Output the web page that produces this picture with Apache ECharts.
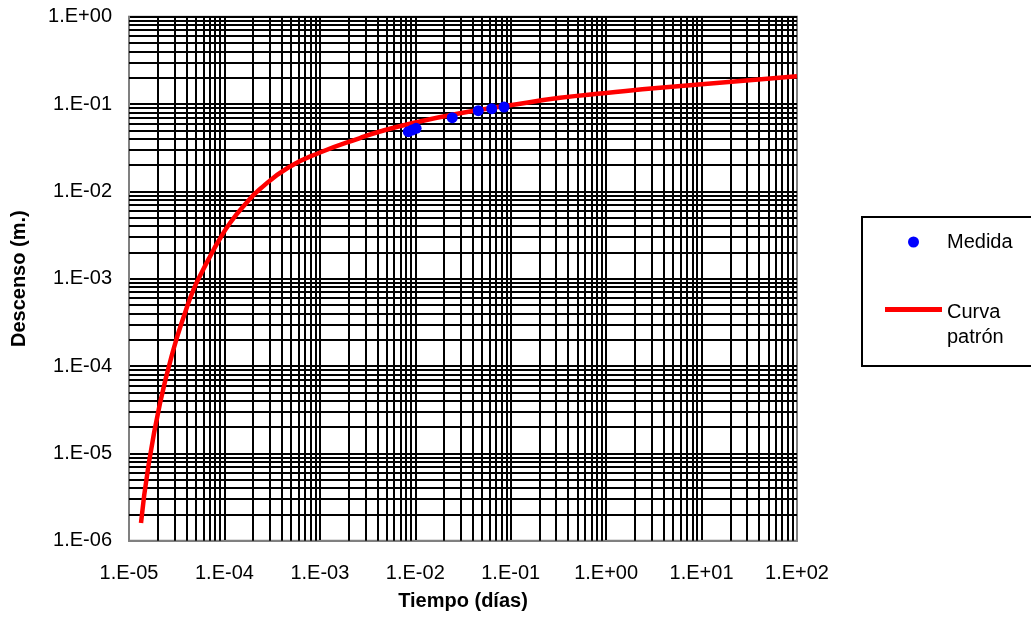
<!DOCTYPE html>
<html>
<head>
<meta charset="utf-8">
<script src="https://cdn.jsdelivr.net/npm/echarts@6/dist/echarts.min.js"></script>
<style>
html,body{margin:0;padding:0;background:#fff;}
#c{width:1031px;height:624px;}
</style>
</head>
<body>
<div id="c"></div>
<script>
// Tick labels
const xTickLabels = ['1.E-05','1.E-04','1.E-03','1.E-02','1.E-01','1.E+00','1.E+01','1.E+02'];
const yTickLabels = ['1.E-06','1.E-05','1.E-04','1.E-03','1.E-02','1.E-01','1.E+00'];

// Curva patrón
const curveTime = [1.336e-5, 1.593e-5, 2.113e-5, 2.912e-5, 3.957e-5, 4.72e-5, 5.78e-5, 7.06e-5, 8.62e-5, 1.144e-4,
  1.642e-4, 2.359e-4, 4.67e-4, 1.003e-3, 2.634e-3, 4.27e-3, 8.80e-3, 2.941e-2, 0.09829, 0.3284, 1.0, 3.667, 100];
const curveDrawdown = [1.594e-6, 7.03e-6, 3.74e-5, 1.526e-4, 4.38e-4, 7.42e-4, 1.177e-3, 1.795e-3, 2.666e-3, 4.342e-3,
  7.07e-3, 0.01064, 0.01876, 0.02786, 0.04083, 0.04847, 0.05953, 0.0783, 0.09671, 0.1178, 0.1337, 0.1538, 0.2077];

// Medida (measured points)
const measTime = [8.45e-3, 9.24e-3, 1.02e-2, 0.0244, 0.0457, 0.0632, 0.0851];
const measDrawdown = [0.0482, 0.0504, 0.0527, 0.0698, 0.0839, 0.0885, 0.0925];

// Minor grid multipliers and decade ranges
const minorMult = [2,3,4,5,6,7,8,9];
const xDecades = [-5,-4,-3,-2,-1,0,1];
const yDecades = [-6,-5,-4,-3,-2,-1];
const xRange = [1e-5, 100];
const yRange = [1e-6, 1];

const FONT = "'Liberation Sans', Arial, sans-serif";

const gridLines = [];
xDecades.forEach(d => minorMult.forEach(m => {
  const v = m * Math.pow(10, d);
  gridLines.push({coords: [[v, yRange[0]], [v, yRange[1]]]});
}));
yDecades.forEach(d => minorMult.forEach(m => {
  const v = m * Math.pow(10, d);
  gridLines.push({coords: [[xRange[0], v], [xRange[1], v]]});
}));

function lab(arr, offset) {
  return function (v) {
    const e = Math.round(Math.log10(v));
    return arr[e + offset] || '';
  };
}

const chart = echarts.init(document.getElementById('c'), null, {renderer: 'canvas'});
chart.setOption({
  animation: false,
  backgroundColor: '#fff',
  grid: {left: 129, right: 234, top: 16.7, bottom: 83.3, show: true, borderColor: '#808080', borderWidth: 2, backgroundColor: 'transparent'},
  xAxis: {
    type: 'log', logBase: 10, min: xRange[0], max: xRange[1], splitNumber: 7,
    name: 'Tiempo (días)', nameLocation: 'middle', nameGap: 51,
    nameTextStyle: {fontFamily: FONT, fontSize: 20, fontWeight: 'bold', color: '#000'},
    axisLine: {show: true, lineStyle: {color: '#808080', width: 2}},
    axisTick: {show: false},
    axisLabel: {formatter: lab(xTickLabels, 5), fontFamily: FONT, fontSize: 20, color: '#000', margin: 23},
    splitLine: {show: true, showMinLine: false, showMaxLine: false, lineStyle: {color: '#000', width: 2}}
  },
  yAxis: {
    type: 'log', logBase: 10, min: yRange[0], max: yRange[1], splitNumber: 6,
    name: 'Descenso (m.)', nameLocation: 'middle', nameGap: 100,
    nameTextStyle: {fontFamily: FONT, fontSize: 20, fontWeight: 'bold', color: '#000'},
    axisLine: {show: true, lineStyle: {color: '#808080', width: 2}},
    axisTick: {show: false},
    axisLabel: {formatter: lab(yTickLabels, 6), fontFamily: FONT, fontSize: 20, color: '#000', margin: 17},
    splitLine: {show: true, showMinLine: false, showMaxLine: true, lineStyle: {color: '#000', width: 2}}
  },
  legend: {
    orient: 'vertical', left: 862, top: 217,
    padding: [13, 30, 16, 23],
    itemWidth: 57, itemHeight: 11, itemGap: 15,
    borderColor: '#000', borderWidth: 2, backgroundColor: '#fff',
    textStyle: {
      fontFamily: FONT, fontSize: 20, color: '#000', lineHeight: 24,
      rich: {
        p: {fontFamily: FONT, fontSize: 20, color: '#000', lineHeight: 31},
        a: {fontFamily: FONT, fontSize: 20, color: '#000', lineHeight: 25}
      }
    },
    formatter: function (n) { return n === 'Curva patrón' ? '{p|\u00a0}\n{a|Curva}\n{a|patrón}' : n; },
    data: [
      {name: 'Medida', icon: 'circle', itemStyle: {color: '#0000FF', opacity: 1}},
      {name: 'Curva patrón', icon: 'path://M0,0 L57,0 L57,5 L0,5 Z', itemStyle: {color: '#FF0000', opacity: 1}}
    ]
  },
  series: [
    {
      name: 'gridlines', type: 'lines', coordinateSystem: 'cartesian2d', z: 1, silent: true,
      polyline: false, large: false,
      lineStyle: {color: '#000', width: 2, opacity: 1, curveness: 0},
      emphasis: {disabled: true},
      data: gridLines
    },
    {
      name: 'Curva patrón', type: 'line', z: 3,
      data: curveTime.map((t, i) => [t, curveDrawdown[i]]),
      showSymbol: false, symbol: 'none', smooth: 0.5,
      lineStyle: {color: '#FF0000', width: 4.5},
      itemStyle: {color: '#FF0000'}
    },
    {
      name: 'Medida', type: 'scatter', z: 4,
      data: measTime.map((t, i) => [t, measDrawdown[i]]),
      symbol: 'circle', symbolSize: 11,
      itemStyle: {color: '#0000FF', opacity: 1}
    }
  ]
});
</script>
</body>
</html>
